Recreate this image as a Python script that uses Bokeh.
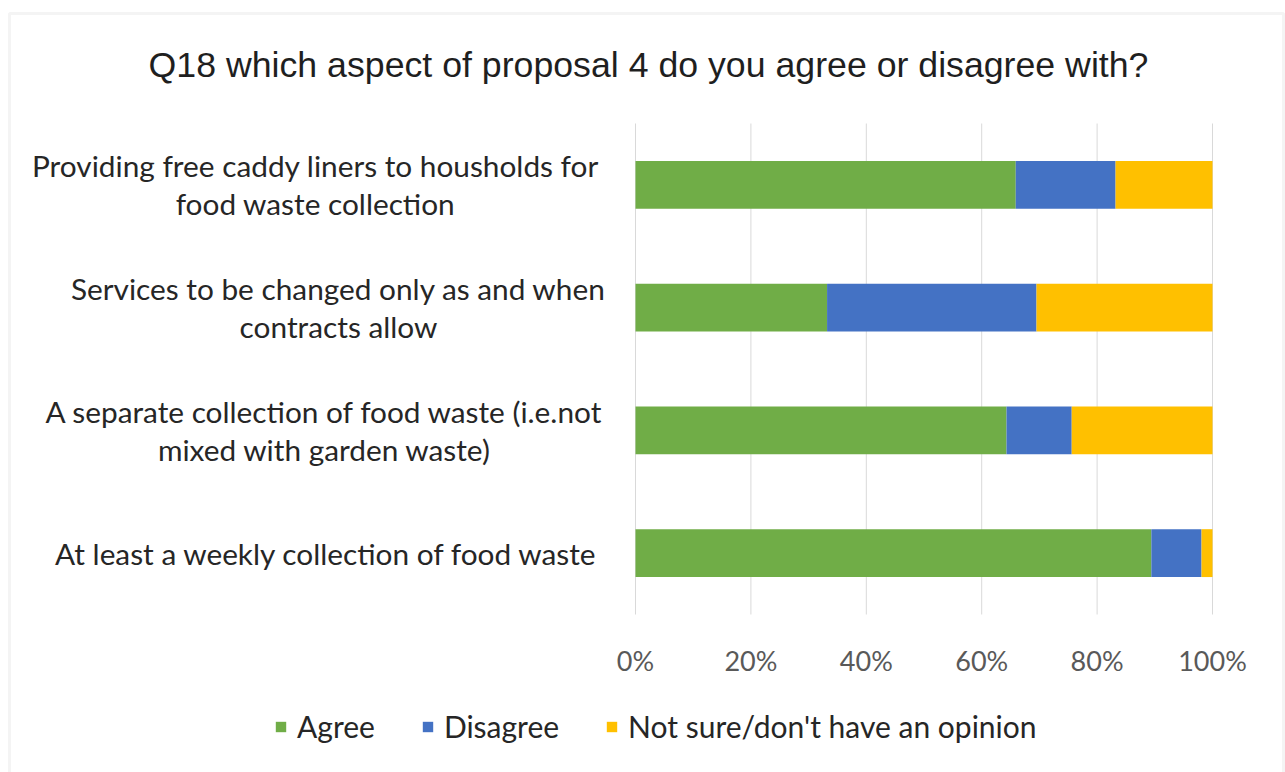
from bokeh.plotting import figure
from bokeh.models import (Range1d, Label, Legend, LegendItem, BoxAnnotation,
                          ColumnDataSource)
from bokeh.embed import file_html
from bokeh.resources import INLINE

# ---------------- data ----------------
title_text = "Q18 which aspect of proposal 4 do you agree or disagree with?"
categories = [
    "Providing free caddy liners to housholds for\nfood waste collection",
    "Services to be changed only as and when\ncontracts allow",
    "A separate collection of food waste (i.e.not\nmixed with garden waste)",
    "At least a weekly collection of food waste",
]
series_keys = ["agree", "disagree", "not_sure"]
series_labels = ["Agree", "Disagree", "Not sure/don't have an opinion"]
agree = [65.9, 33.2, 64.3, 89.4]
disagree = [17.3, 36.3, 11.3, 8.7]
not_sure = [16.8, 30.5, 24.4, 1.9]
x_ticks = [0, 20, 40, 60, 80, 100]
tick_labels = ["0%", "20%", "40%", "60%", "80%", "100%"]
colors = ["#70AD47", "#4472C4", "#FFC000"]

# ---------------- layout (pixels of the 1285x772 page) ----------------
W, H = 1285, 772
FL, FR, FT, FB = 635, 1212, 123, 614          # plot-area edges in px
n = len(categories)
px_per_x = (FR - FL) / 100.0
px_per_y = (FB - FT) / n


def xd(px):
    return (px - FL) / px_per_x


def yd(py):
    return (FB - py) / px_per_y


# category slot positions (top category first), bottom slot = 0.5
ypos = [n - 1 - i + 0.5 for i in range(n)]

source = ColumnDataSource(dict(cat=categories, y=ypos, agree=agree,
                               disagree=disagree, not_sure=not_sure))

p = figure(width=W, height=H, output_backend="svg", toolbar_location=None,
           x_range=Range1d(xd(0), xd(W)), y_range=Range1d(yd(H), yd(0)),
           min_border=0, min_border_left=0, min_border_right=0,
           min_border_top=0, min_border_bottom=0)
p.xaxis.visible = False
p.yaxis.visible = False
p.grid.visible = False
p.outline_line_color = None
p.background_fill_color = "white"
p.border_fill_color = "white"

# vertical gridlines at the tick values, spanning the plot area only
p.segment(x0=x_ticks, x1=x_ticks, y0=[0] * len(x_ticks), y1=[n] * len(x_ticks),
          line_color="#d9d9d9", line_width=1)

renderers = p.hbar_stack(series_keys, y="y", height=0.39, color=colors,
                         source=source, line_color=None)

# x tick labels
p.text(x=x_ticks, y=[yd(660)] * len(x_ticks), text=tick_labels,
       text_align="center", text_baseline="middle",
       text_font={"value": "Lato"}, text_font_size={"value": "27px"},
       text_color="#595959")

# category labels (lines centred within each block)
label_centers = [315, 338, 324, 326]
for cat, yy, cx in zip(categories, ypos, label_centers):
    p.add_layout(Label(x=xd(cx), y=yy, text=cat, text_align="center",
                       text_baseline="middle", text_font="Lato",
                       text_font_size="29.8px", text_color="#262626",
                       text_line_height=1.09))

# title
p.add_layout(Label(x=xd(648), y=yd(64), text=title_text, text_align="center",
                   text_baseline="middle", text_font="Liberation Sans",
                   text_font_size="35.7px", text_color="#1f1f1f"))

# outer border
p.add_layout(BoxAnnotation(left=xd(9), right=xd(1283), top=yd(13),
                           bottom=yd(820), fill_alpha=0,
                           line_color="#d9d9d9", line_width=3))

# legend
items = [LegendItem(label=lab, renderers=[r])
         for lab, r in zip(series_labels, renderers)]
legend = Legend(items=items, orientation="horizontal",
                location=(274, H - 744),
                glyph_width=13, glyph_height=13, label_standoff=10,
                spacing=46, padding=0, margin=0,
                label_text_font="Lato", label_text_font_size="30px",
                label_text_color="#262626",
                background_fill_alpha=0, border_line_color=None)
p.add_layout(legend)

open("out.html", "w").write(file_html(p, INLINE))
